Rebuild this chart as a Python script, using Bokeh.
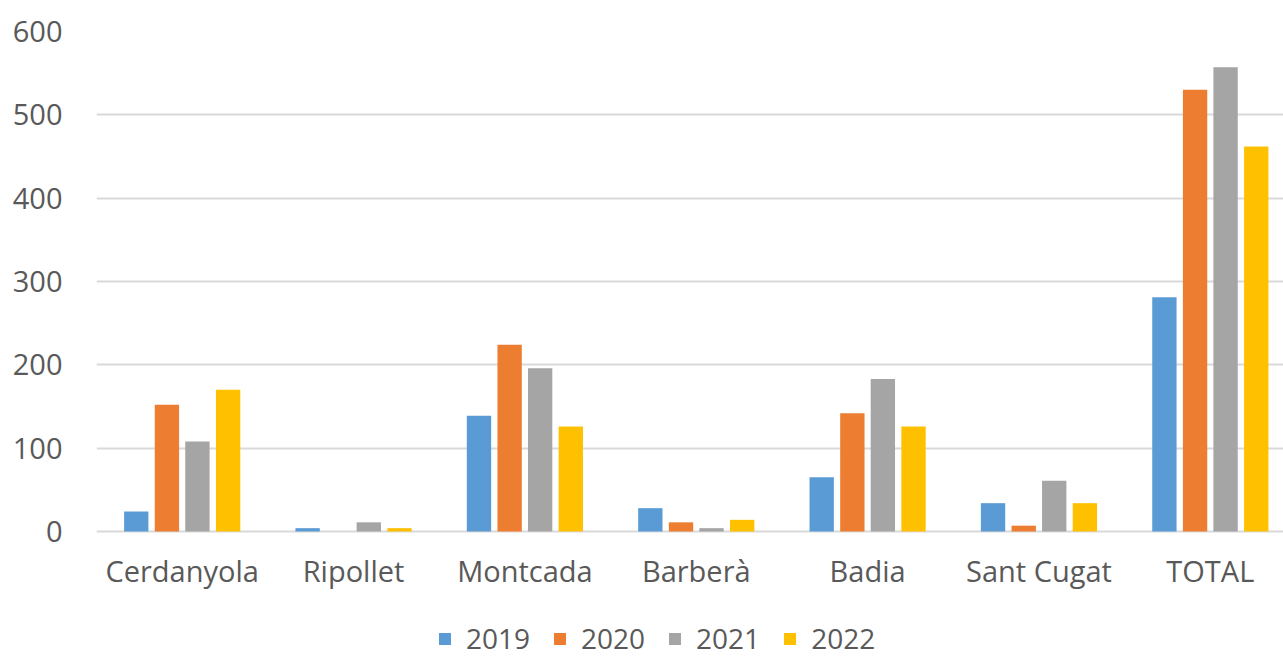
from bokeh.plotting import figure
from bokeh.models import Range1d, FixedTicker, ColumnDataSource, Legend, LegendItem, LinearAxis
from bokeh.embed import file_html
from bokeh.resources import INLINE

categories = ["Cerdanyola", "Ripollet", "Montcada", "Barberà", "Badia", "Sant Cugat", "TOTAL"]
years = ["2019", "2020", "2021", "2022"]
v2019 = [24, 4, 139, 28, 65, 34, 281]
v2020 = [152, 0, 224, 11, 142, 7, 530]
v2021 = [108, 11, 196, 4, 183, 61, 557]
v2022 = [170, 4, 126, 14, 126, 34, 462]
series = [v2019, v2020, v2021, v2022]
y_ticks = [0, 100, 200, 300, 400, 500, 600]
colors = ["#5B9BD5", "#ED7D31", "#A5A5A5", "#FFC000"]
offsets = [-0.268, -0.089, 0.089, 0.268]
bar_w = 0.142

FONT = "Open Sans"
TXT = "#595959"

p = figure(width=1283, height=657, output_backend="svg", toolbar_location=None,
           x_range=Range1d(0, 6.927), y_range=Range1d(-151.2, 600),
           x_axis_location=None,
           min_border_left=96, min_border_right=0, min_border_top=31, min_border_bottom=0)
p.outline_line_color = None
p.background_fill_color = "white"
p.border_fill_color = "white"

centers = [i + 0.5 for i in range(len(categories))]
items = []
for yr, vals, col, off in zip(years, series, colors, offsets):
    src = ColumnDataSource(dict(x=[c + off for c in centers], top=vals))
    r = p.vbar(x="x", top="top", width=bar_w, source=src, fill_color=col, line_color=None)
    items.append(LegendItem(label=yr, renderers=[r]))

xaxis = LinearAxis(fixed_location=0, ticker=FixedTicker(ticks=centers),
                   major_label_overrides={c: n for c, n in zip(centers, categories)})
p.add_layout(xaxis, "below")
p.yaxis.ticker = FixedTicker(ticks=y_ticks)
for ax in (xaxis, p.yaxis[0]):
    ax.axis_line_color = None
    ax.major_tick_line_color = None
    ax.minor_tick_line_color = None
    ax.major_label_text_font = FONT
    ax.major_label_text_font_size = "29px"
    ax.major_label_text_color = TXT
p.yaxis.major_label_standoff = 28
xaxis.major_label_standoff = 13

for g in p.grid:
    if g.dimension == 0:
        g.visible = False
    else:
        g.ticker = FixedTicker(ticks=y_ticks)
        g.grid_line_color = "#D9D9D9"
        g.grid_line_width = 2

legend = Legend(items=items, orientation="horizontal", location=(341, 0),
                glyph_width=15, glyph_height=15, label_standoff=14, spacing=22,
                label_text_font=FONT, label_text_font_size="28px", label_text_color=TXT,
                border_line_color=None, background_fill_alpha=0, padding=0, margin=0)
p.add_layout(legend, "center")

open("out.html", "w").write(file_html(p, INLINE))
